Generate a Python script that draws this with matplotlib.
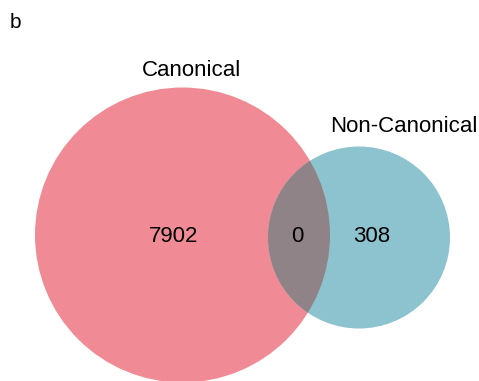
import matplotlib.pyplot as plt
from matplotlib.patches import Circle

set_names = ["Canonical", "Non-Canonical"]
counts = [7902, 0, 308]  # only canonical, shared, only non-canonical

pink = "#F08B95"
blue = "#8CC3CF"
shared = "#8F8387"

plt.rcParams["font.family"] = ["Liberation Sans", "DejaVu Sans"]

fig = plt.figure(figsize=(4.79, 3.81), dpi=100)
ax = fig.add_axes([0, 0, 1, 1])
ax.set_xlim(0, 479)
ax.set_ylim(381, 0)
ax.set_aspect("equal")
ax.axis("off")

big = Circle((182.5, 235), 147.5, facecolor=pink, edgecolor="none")
small = Circle((359, 237.5), 91, facecolor=blue, edgecolor="none")
ax.add_patch(big)
ax.add_patch(small)

# shared region: small circle clipped to the big one
mid = Circle((359, 237.5), 91, facecolor=shared, edgecolor="none")
ax.add_patch(mid)
mid.set_clip_path(big)

ax.text(192, 71, set_names[0], ha="center", va="center", fontsize=16)
ax.text(404, 126, set_names[1], ha="center", va="center", fontsize=16)

ax.text(174, 237, str(counts[0]), ha="center", va="center", fontsize=16)
ax.text(297, 237, str(counts[1]), ha="center", va="center", fontsize=16)
ax.text(372, 237, str(counts[2]), ha="center", va="center", fontsize=16)

ax.text(10, 22, "b", ha="left", va="center", fontsize=15)

fig.savefig("out.png", dpi=100)
